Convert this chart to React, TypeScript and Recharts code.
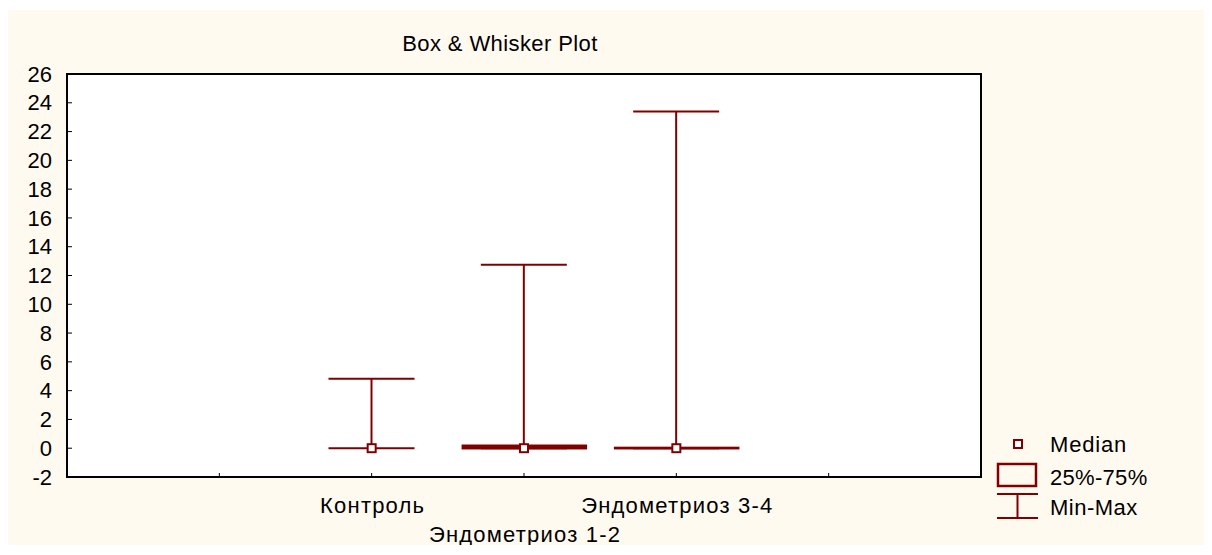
import React from 'react';
import {
  ComposedChart,
  Bar,
  Scatter,
  XAxis,
  YAxis,
  CartesianGrid,
  Legend,
  ReferenceArea,
} from 'recharts';

// Box & whisker values
const categories = ['Контроль', 'Эндометриоз 1-2', 'Эндометриоз 3-4'];
const positions = [2, 3, 4];
const minValues = [0, 0, 0];
const maxValues = [4.83, 12.75, 23.4];
const q1Values = [0, 0, 0];
const q3Values = [0, 0.17, 0.02];
const medianValues = [0, 0, 0];

const yTicks = [-2, 0, 2, 4, 6, 8, 10, 12, 14, 16, 18, 20, 22, 24, 26];
const xTicks = [1, 2, 3, 4, 5];

const DARK_RED = '#800000';
const FONT = '"Liberation Sans", Arial, sans-serif';

const data = categories.map((name, i) => ({
  name,
  pos: positions[i],
  min: minValues[i],
  max: maxValues[i],
  q1: q1Values[i],
  q3: q3Values[i],
  median: medianValues[i],
}));

const labelFor = (v: number) => {
  const i = positions.indexOf(v);
  return i >= 0 ? categories[i] : '';
};

const WhiskerShape = (props: any) => {
  const { x, y, width, height } = props;
  const top = Math.min(y, y + height);
  const bottom = Math.max(y, y + height);
  const cx = x + width / 2;
  return (
    <g stroke={DARK_RED} strokeWidth={2}>
      <line x1={cx} y1={top} x2={cx} y2={bottom} />
      <line x1={x} y1={top} x2={x + width} y2={top} />
      <line x1={x} y1={bottom} x2={x + width} y2={bottom} />
    </g>
  );
};

const BoxShape = (props: any) => {
  const { x, y, width, height } = props;
  const p = props.payload ?? props;
  if (p.q1 === p.q3) return <g />;
  const top = Math.min(y, y + height);
  const h = Math.abs(height);
  return (
    <rect x={x} y={top} width={width} height={h} fill="#fff" stroke={DARK_RED} strokeWidth={2.5} />
  );
};

const MedianShape = (props: any) => {
  const { cx, cy } = props;
  return (
    <rect x={cx - 4} y={cy - 4} width={8} height={8} fill="#fff" stroke={DARK_RED} strokeWidth={2} />
  );
};

const YTick = (props: any) => {
  const { x, y, payload } = props;
  return (
    <g>
      <line x1={x} y1={y} x2={x + 5} y2={y} stroke="#000" strokeWidth={1} />
      <text x={x - 15} y={y} dy="0.35em" textAnchor="end" fill="#000" fontSize={22} fontFamily={FONT}>
        {payload.value}
      </text>
    </g>
  );
};

const XTick = (props: any) => {
  const { x, y, payload, index } = props;
  // labels alternate between two rows, like the original
  const rowOffset = index % 2 === 1 ? 28 : 57;
  return (
    <g>
      <line x1={x} y1={y} x2={x} y2={y - 4} stroke="#000" strokeWidth={1} />
      <text
        x={x + 1}
        y={y + rowOffset}
        dy="0.35em"
        textAnchor="middle"
        fill="#000"
        fontSize={22}
        letterSpacing={1.2}
        fontFamily={FONT}
      >
        {labelFor(payload.value)}
      </text>
    </g>
  );
};

const LegendContent = () => (
  <svg width={200} height={100} style={{ display: 'block' }}>
    <rect x={24} y={12} width={8} height={8} fill="#fff" stroke={DARK_RED} strokeWidth={2} />
    <text x={60} y={16} dy="0.35em" fontSize={22} letterSpacing={0.8} fontFamily={FONT} fill="#000">
      Median
    </text>
    <rect x={8} y={36} width={38} height={22} fill="none" stroke={DARK_RED} strokeWidth={2.5} />
    <text x={60} y={49} dy="0.35em" fontSize={22} letterSpacing={0.3} fontFamily={FONT} fill="#000">
      25%-75%
    </text>
    <g stroke={DARK_RED} strokeWidth={2}>
      <line x1={7} y1={66} x2={48} y2={66} />
      <line x1={27.5} y1={66} x2={27.5} y2={90} />
      <line x1={7} y1={90} x2={48} y2={90} />
    </g>
    <text x={60} y={79} dy="0.35em" fontSize={22} letterSpacing={0.5} fontFamily={FONT} fill="#000">
      Min-Max
    </text>
  </svg>
);

export default function App() {
  return (
    <div
      style={{
        position: 'relative',
        width: 1204,
        height: 535,
        marginTop: 2,
        background: '#FFFAF0',
        fontFamily: FONT,
      }}
    >
      <div
        style={{
          position: 'absolute',
          left: 0,
          top: 22,
          width: 984,
          textAlign: 'center',
          fontSize: 22,
          letterSpacing: 0.4,
          lineHeight: '24px',
          color: '#000',
        }}
      >
        Box &amp; Whisker Plot
      </div>
      <ComposedChart
        width={1204}
        height={545}
        data={data}
        margin={{ top: 64, right: 231, bottom: 10, left: 0 }}
      >
        <CartesianGrid vertical={false} fill="#fff" stroke="#c0c0c0" strokeDasharray="4 3" />
        <XAxis
          xAxisId="main"
          dataKey="pos"
          type="number"
          domain={[0, 6]}
          ticks={xTicks}
          interval={0}
          height={68}
          tickSize={0}
          tickMargin={0}
          tickLine={false}
          axisLine={{ stroke: '#000', strokeWidth: 2 }}
          tick={<XTick />}
        />
        <XAxis
          xAxisId="box"
          dataKey="pos"
          type="number"
          orientation="top"
          domain={[0, 6]}
          height={0}
          hide
        />
        <YAxis
          yAxisId="v"
          type="number"
          domain={[-2, 26]}
          ticks={yTicks}
          interval={0}
          width={59}
          tickSize={0}
          tickMargin={0}
          tickLine={false}
          axisLine={{ stroke: '#000', strokeWidth: 2 }}
          tick={<YTick />}
        />
        <ReferenceArea
          xAxisId="main"
          yAxisId="v"
          x1={0}
          x2={6}
          y1={-2}
          y2={26}
          fill="none"
          fillOpacity={0}
          stroke="#000"
          strokeWidth={2}
        />
        <Bar
          xAxisId="main"
          yAxisId="v"
          dataKey={(d: any) => [d.min, d.max]}
          barSize={86}
          shape={<WhiskerShape />}
          isAnimationActive={false}
          legendType="none"
        />
        <Bar
          xAxisId="box"
          yAxisId="v"
          dataKey={(d: any) => [d.q1, d.q3]}
          barSize={123}
          shape={<BoxShape />}
          isAnimationActive={false}
          legendType="none"
        />
        <Scatter
          xAxisId="main"
          yAxisId="v"
          dataKey="median"
          shape={<MedianShape />}
          isAnimationActive={false}
          legendType="none"
        />
        <Legend
          layout="vertical"
          align="center"
          verticalAlign="middle"
          content={<LegendContent />}
          wrapperStyle={{ left: 982, top: 418, width: 200, height: 100 }}
        />
      </ComposedChart>
    </div>
  );
}
